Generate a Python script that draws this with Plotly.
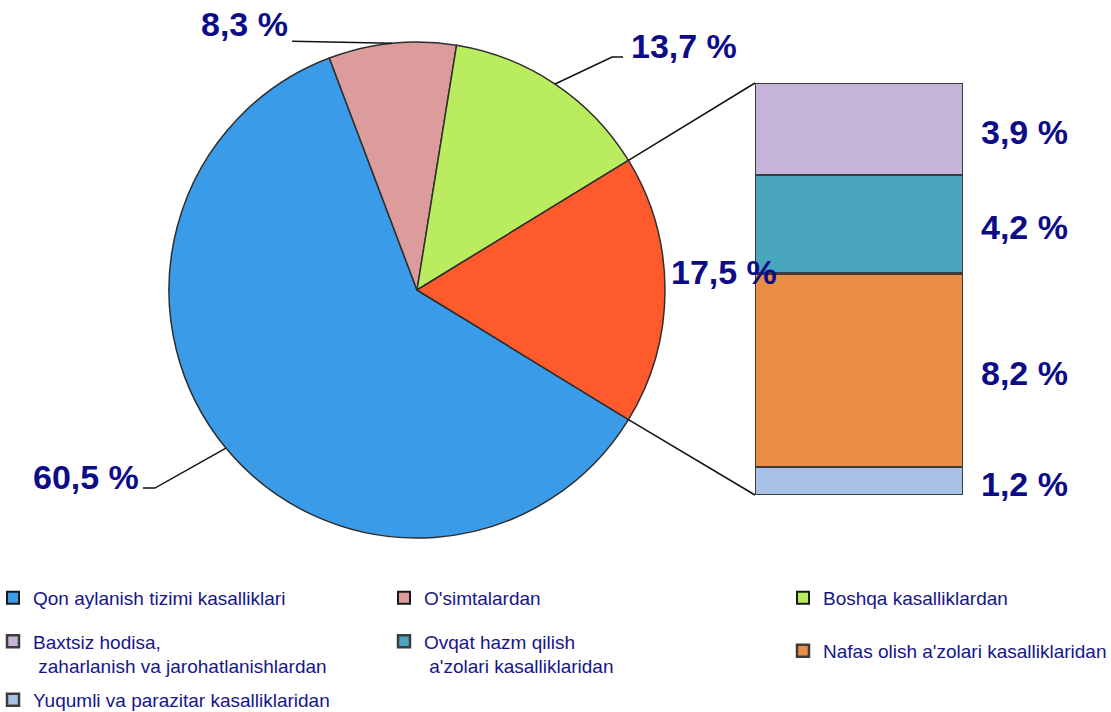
import math
import plotly.graph_objects as go

# ---------------- data ----------------
pie_labels = ["Qon aylanish tizimi kasalliklari", "O'simtalardan",
              "Boshqa kasalliklardan", "Boshqa sabablar"]
pie_values = [60.5, 8.3, 13.7, 17.5]
pie_colors = ["#3a9be8", "#dc9c9c", "#b9ec5e", "#ff5a2c"]

bar_labels = ["Yuqumli va parazitar kasalliklaridan",
              "Nafas olish a'zolari kasalliklaridan",
              "Ovqat hazm qilish<br> a'zolari kasalliklaridan",
              "Baxtsiz hodisa,<br> zaharlanish va jarohatlanishlardan"]
bar_values = [1.2, 8.2, 4.2, 3.9]
bar_colors = ["#a9c1e6", "#ea8d45", "#4aa5be", "#c5b3d9"]

# ---------------- layout constants ----------------
W, H = 1111, 712
FONT = "Arial, Liberation Sans, sans-serif"
LABEL_COLOR = "#0c0c88"
LEGEND_COLOR = "#16168a"
EDGE = "#2e2e2e"

PIE_CX, PIE_CY, PIE_R = 417, 290, 248          # pixels
BAR_X0, BAR_X1, BAR_Y0, BAR_Y1 = 755, 963, 495, 83  # pixels (bottom, top)


def paper(x, y):
    return x / W, 1 - y / H


def fmt(v):
    return f"{v:.1f}".replace(".", ",") + " %"


total = sum(pie_values)
rotation = 90 + pie_values[-1] / total * 180  # last slice centred at 3 o'clock

fig = go.Figure()

# legend entries of the three shown pie slices (tiny pies hidden under the main pie)
pie_legends = ["legend", "legend2", "legend3"]
for i in range(3):
    fig.add_trace(go.Pie(
        labels=[pie_labels[i]], values=[pie_values[i]],
        marker=dict(colors=[pie_colors[i]], line=dict(color="#1a1a1a", width=2)),
        domain=dict(x=[(PIE_CX - 3) / W, (PIE_CX + 3) / W],
                    y=[1 - (PIE_CY + 3) / H, 1 - (PIE_CY - 3) / H]),
        textinfo="none", hoverinfo="skip", sort=False,
        legend=pie_legends[i], showlegend=True))

# main pie
fig.add_trace(go.Pie(
    labels=pie_labels, values=pie_values,
    marker=dict(colors=pie_colors, line=dict(color=EDGE, width=1.5)),
    domain=dict(x=[(PIE_CX - PIE_R) / W, (PIE_CX + PIE_R) / W],
                y=[1 - (PIE_CY + PIE_R) / H, 1 - (PIE_CY - PIE_R) / H]),
    rotation=rotation, direction="clockwise", sort=False,
    textinfo="none", showlegend=False))

# stacked bar
bar_legends = ["legend7", "legend6", "legend5", "legend4"]
for lab, val, col, lg in zip(bar_labels, bar_values, bar_colors, bar_legends):
    fig.add_trace(go.Bar(
        x=[0], y=[val], name=lab, width=1,
        marker=dict(color=col, line=dict(color="#3c3c3c", width=2.5)),
        legend=lg, showlegend=True, hoverinfo="name+y"))

bar_total = sum(bar_values)

# ---------------- pie labels and leader lines ----------------
angles = []
acc = 0
for v in pie_values:
    start = rotation + acc / total * 360
    acc += v
    end = rotation + acc / total * 360
    angles.append((start, end))


def edge_point(theta):
    t = math.radians(theta)
    return PIE_CX + PIE_R * math.sin(t), PIE_CY - PIE_R * math.cos(t)


# per label: text offset and leader path offsets relative to the slice's edge midpoint
label_geom = [
    dict(text=(-140, 29), path=[(-71, 40), (-83, 40)]),
    dict(text=(-148, -19), path=[(-100, -2)]),
    dict(text=(129, -38), path=[(57, -27), (68, -27)]),
    dict(text=(59, -18), path=[]),
]

shapes = []
annotations = []
for (a0, a1), v, g in zip(angles, pie_values, label_geom):
    ex, ey = edge_point((a0 + a1) / 2)
    tx, ty = paper(ex + g["text"][0], ey + g["text"][1])
    annotations.append(dict(
        x=tx, y=ty, xref="paper", yref="paper", text=fmt(v), showarrow=False,
        xanchor="center", yanchor="middle",
        font=dict(family=FONT, size=34, color=LABEL_COLOR, weight="bold")))
    if g["path"]:
        pts = [(ex, ey)] + [(ex + dx, ey + dy) for dx, dy in g["path"]]
        d = "M " + " L ".join(f"{paper(px, py)[0]:.5f},{paper(px, py)[1]:.5f}" for px, py in pts)
        shapes.append(dict(type="path", path=d, xref="paper", yref="paper",
                           line=dict(color="#111111", width=1.5)))

# connectors from the last slice to the bar (upper edge -> bar top, lower edge -> bar bottom)
a0, a1 = angles[-1]
for theta, by in ((a0, BAR_Y1), (a1, BAR_Y0)):
    ex, ey = edge_point(theta)
    p0 = paper(ex, ey)
    p1 = paper(BAR_X0, by)
    shapes.append(dict(type="line", xref="paper", yref="paper",
                       x0=p0[0], y0=p0[1], x1=p1[0], y1=p1[1],
                       line=dict(color="#111111", width=1.5)))

# bar value labels
cum = 0
for v in bar_values:
    mid = cum + v / 2
    cum += v
    annotations.append(dict(
        x=1024 / W, y=mid, xref="paper", yref="y", yshift=-3, text=fmt(v),
        showarrow=False, xanchor="center", yanchor="middle",
        font=dict(family=FONT, size=34, color=LABEL_COLOR, weight="bold")))

# ---------------- legends (3-column grid) ----------------
legend_pos = {
    "legend": (29, 598), "legend2": (420, 598), "legend3": (819, 598),
    "legend4": (29, 654), "legend5": (420, 654), "legend6": (819, 651),
    "legend7": (29, 700),
}
legend_layout = {}
for key, (tx, ty) in legend_pos.items():
    lx, ly = paper(tx - 36, ty)
    legend_layout[key] = dict(
        x=lx, y=ly, xanchor="left", yanchor="middle", orientation="v",
        valign="top", bgcolor="rgba(0,0,0,0)", borderwidth=0,
        font=dict(family=FONT, size=19, color=LEGEND_COLOR))

fig.update_layout(
    width=W, height=H,
    margin=dict(l=0, r=0, t=0, b=0, autoexpand=False),
    paper_bgcolor="white", plot_bgcolor="rgba(0,0,0,0)",
    barmode="stack",
    xaxis=dict(domain=[BAR_X0 / W, BAR_X1 / W], range=[-0.5, 0.5], visible=False,
               fixedrange=True),
    yaxis=dict(domain=[1 - BAR_Y0 / H, 1 - BAR_Y1 / H], range=[0, bar_total],
               visible=False, fixedrange=True),
    shapes=shapes, annotations=annotations,
    **legend_layout,
)

fig.write_html("out.html", config={"displayModeBar": False},
               post_script="document.body.style.margin='0';document.body.style.padding='0';")
